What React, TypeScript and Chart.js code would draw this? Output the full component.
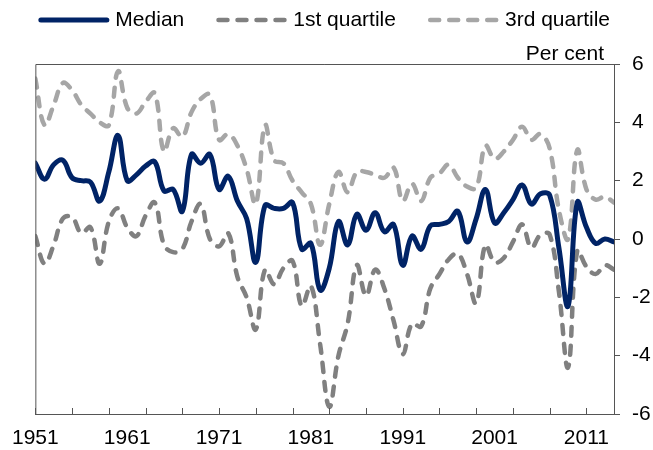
import React, { useEffect, useRef } from "react";
import { Chart, registerables } from "chart.js";

Chart.register(...registerables);

const years = [
  1951, 1952, 1953, 1954, 1955, 1956, 1957, 1958, 1959, 1960,
  1961, 1962, 1963, 1964, 1965, 1966, 1967, 1968, 1969, 1970,
  1971, 1972, 1973, 1974, 1975, 1976, 1977, 1978, 1979, 1980,
  1981, 1982, 1983, 1984, 1985, 1986, 1987, 1988, 1989, 1990,
  1991, 1992, 1993, 1994, 1995, 1996, 1997, 1998, 1999, 2000,
  2001, 2002, 2003, 2004, 2005, 2006, 2007, 2008, 2009, 2010,
  2011, 2012, 2013, 2014,
];

const median = [
  2.6, 2.05, 2.55, 2.7, 2.1, 2.0, 1.95, 1.3, 2.3, 3.55,
  2.0, 2.2, 2.5, 2.65, 1.65, 1.7, 0.95, 2.9, 2.6, 2.9,
  1.7, 2.15, 1.3, 0.7, -0.8, 1.15, 1.05, 1.05, 1.25, -0.35,
  -0.15, -1.75, -1.0, 0.6, -0.2, 0.85, 0.3, 0.9, 0.25, 0.5,
  -0.9, 0.1, -0.35, 0.45, 0.5, 0.6, 0.95, -0.1, 0.7, 1.7,
  0.55, 0.9, 1.35, 1.85, 1.2, 1.55, 1.5, -0.3, -2.3, 1.25,
  0.4, -0.15, 0.0, -0.1,
];

const firstQuartile = [
  0.1, -0.85, -0.2, 0.7, 0.75, 0.2, 0.4, -0.85, 0.6, 1.05,
  0.4, 0.1, 0.8, 1.25, -0.2, -0.45, -0.35, 0.6, 1.2, 0.0,
  -0.25, 0.2, -1.3, -2.0, -3.1, -1.05, -1.55, -1.0, -0.75, -2.3,
  -1.6, -3.6, -5.75, -4.0, -2.9, -0.9, -1.95, -1.05, -1.7, -2.8,
  -3.95, -2.9, -3.0, -1.7, -1.2, -0.7, -0.5, -1.2, -2.2, -0.2,
  -0.8, -0.65, -0.1, 0.5, -0.3, 0.15, 0.15, -1.8, -4.4, -0.4,
  -0.95, -1.2, -0.9, -1.05,
];

const thirdQuartile = [
  5.5, 3.9, 4.6, 5.35, 5.1, 4.6, 4.3, 4.0, 3.9, 5.75,
  4.5, 4.3, 4.7, 5.0, 3.0, 3.8, 3.5, 4.35, 4.8, 4.95,
  3.4, 3.6, 3.2, 2.4, 1.2, 3.9, 2.7, 2.6, 2.0, 1.6,
  1.2, -0.2, 1.2, 2.3, 1.6, 2.3, 2.3, 2.2, 2.1, 2.45,
  1.3, 1.9, 1.3, 2.1, 2.25, 2.55, 2.1, 1.8, 1.75, 3.2,
  2.75, 3.0, 3.4, 3.85, 3.4, 3.6, 3.1, 1.0, 0.0, 3.05,
  1.7, 1.35, 1.45, 1.25,
];

const labelYears = [1951, 1961, 1971, 1981, 1991, 2001, 2011];
const tickMarkYears = [
  1951, 1955, 1959, 1963, 1967, 1971, 1975, 1979, 1983, 1987,
  1991, 1995, 1999, 2003, 2007, 2011,
];
const yTicks = [-6, -4, -2, 0, 2, 4, 6];

const seriesNames = ["Median", "1st quartile", "3rd quartile"];
const unitLabel = "Per cent";

const NAVY = "#002366";
const MID_GREY = "#808080";
const LIGHT_GREY = "#a6a6a6";
const FRAME = "#555555";
const FONT_FAMILY = '"Liberation Sans", Arial, Helvetica, sans-serif';

const decorPlugin = {
  id: "decor",
  afterDraw(chart: any) {
    const { ctx, chartArea: a, scales } = chart;
    const xs = scales.x;
    ctx.save();
    ctx.strokeStyle = FRAME;
    ctx.lineWidth = 1;
    ctx.setLineDash([]);
    ctx.beginPath();
    ctx.moveTo(a.left + 0.5, a.bottom);
    ctx.lineTo(a.left + 0.5, a.top + 0.5);
    ctx.lineTo(a.right, a.top + 0.5);
    ctx.stroke();
    ctx.beginPath();
    for (const yr of tickMarkYears) {
      const px = Math.round(xs.getPixelForValue(yr)) + 0.5;
      ctx.moveTo(px, a.bottom);
      ctx.lineTo(px, a.bottom - 6);
    }
    ctx.stroke();
    ctx.font = `21px ${FONT_FAMILY}`;
    ctx.fillStyle = "#000";
    ctx.textAlign = "right";
    ctx.textBaseline = "alphabetic";
    ctx.fillText(unitLabel, a.right - 10, a.top - 4.5);
    const ds = chart.data.datasets;
    const boxW = 71;
    const gapText = 6;
    const gapItem = 32;
    let x = a.left + 3;
    const ly = 20;
    ds.forEach((d: any) => {
      const cap = d.borderWidth / 2;
      ctx.beginPath();
      ctx.strokeStyle = d.borderColor;
      ctx.lineWidth = d.borderWidth;
      ctx.lineCap = "round";
      ctx.setLineDash(d.borderDash || []);
      ctx.moveTo(x + cap, ly);
      ctx.lineTo(x + boxW - cap, ly);
      ctx.stroke();
      ctx.setLineDash([]);
      ctx.fillStyle = "#000";
      ctx.textAlign = "left";
      ctx.textBaseline = "middle";
      ctx.fillText(d.label, x + boxW + gapText, ly);
      x += boxW + gapText + ctx.measureText(d.label).width + gapItem;
    });
    ctx.restore();
  },
};

export default function App() {
  const canvasRef = useRef<HTMLCanvasElement | null>(null);

  useEffect(() => {
    if (!canvasRef.current) return;
    const toPts = (vals: number[]) => years.map((yr, i) => ({ x: yr, y: vals[i] }));
    const common = {
      fill: false,
      pointRadius: 0,
      pointHoverRadius: 0,
      tension: 0.4,
      borderCapStyle: "round" as const,
      borderJoinStyle: "round" as const,
    };
    const chart = new Chart(canvasRef.current, {
      type: "line",
      data: {
        datasets: [
          {
            ...common,
            label: seriesNames[0],
            data: toPts(median),
            borderColor: NAVY,
            borderWidth: 5,
            order: 1,
          },
          {
            ...common,
            label: seriesNames[1],
            data: toPts(firstQuartile),
            borderColor: MID_GREY,
            borderWidth: 4.5,
            borderDash: [9, 10],
            order: 2,
          },
          {
            ...common,
            label: seriesNames[2],
            data: toPts(thirdQuartile),
            borderColor: LIGHT_GREY,
            borderWidth: 4.5,
            borderDash: [9, 10],
            order: 3,
          },
        ] as any,
      },
      options: {
        animation: false,
        responsive: true,
        maintainAspectRatio: false,
        events: [],
        layout: { autoPadding: false, padding: { left: 32, top: 64, right: 0, bottom: 0 } },
        plugins: {
          legend: { display: false },
          tooltip: { enabled: false },
          title: { display: false },
        },
        scales: {
          x: {
            type: "linear",
            min: 1951,
            max: 2014,
            grid: { display: false, drawTicks: false, tickLength: 0 },
            border: { display: true, color: FRAME, width: 1 },
            afterBuildTicks: (scale: any) => {
              scale.ticks = labelYears.map((v) => ({ value: v }));
            },
            afterFit: (scale: any) => {
              scale.height = 36;
            },
            ticks: {
              autoSkip: false,
              maxRotation: 0,
              padding: 12,
              color: "#000",
              font: { family: FONT_FAMILY, size: 21 },
              callback: (v: any) => String(v),
            },
          },
          y: {
            position: "right",
            min: -6,
            max: 6,
            afterBuildTicks: (scale: any) => {
              scale.ticks = yTicks.map((v) => ({ value: v }));
            },
            afterFit: (scale: any) => {
              scale.width = 39;
            },
            grid: {
              drawOnChartArea: false,
              drawTicks: true,
              tickLength: 6,
              color: FRAME,
            },
            border: { display: true, color: FRAME, width: 1 },
            ticks: {
              padding: 12,
              color: "#000",
              font: { family: FONT_FAMILY, size: 21 },
              callback: (v: any) => String(v),
            },
          },
        },
      },
      plugins: [decorPlugin],
    });
    return () => chart.destroy();
  }, []);

  return (
    <div style={{ position: "fixed", left: 0, top: 0, width: 653, height: 450, background: "#fff" }}>
      <canvas ref={canvasRef} />
    </div>
  );
}
